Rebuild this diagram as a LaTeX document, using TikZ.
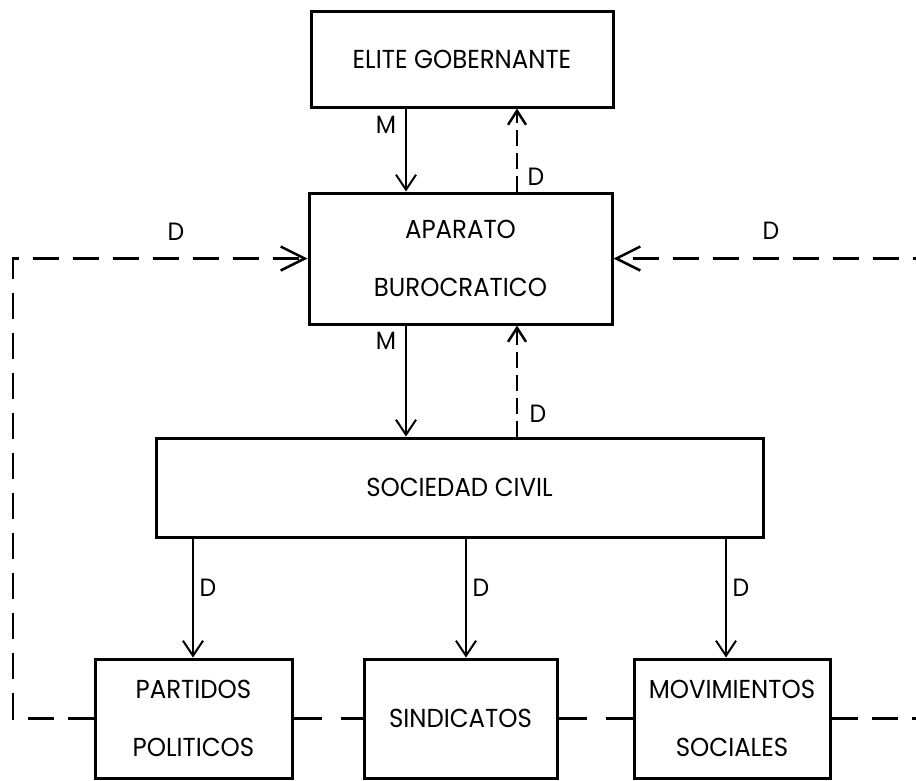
\documentclass[tikz,border=0pt]{standalone}
\usepackage{fontspec}
\setmainfont{Poppins}[FakeStretch=0.94]
\usetikzlibrary{arrows.meta}

\tikzset{
  box/.style={draw, line width=3pt, inner sep=0pt, align=center,
    font=\fontsize{26}{58}\selectfont},
  lbl/.style={inner sep=0pt, font=\fontsize{25}{28}\selectfont},
  solidarr/.style={line width=2pt,
    -{Straight Barb[length=15pt,width=20pt,line width=2pt]}},
  upd/.style={line width=2.5pt, dash pattern=on 16pt off 7pt,
    -{Straight Barb[length=14pt,width=18pt,line width=2.5pt]}},
  longd/.style={line width=2.5pt, dash pattern=on 26pt off 14pt},
  longdarr/.style={longd,
    -{Straight Barb[length=24pt,width=24pt,line width=2.5pt]}},
  botd/.style={line width=2.5pt, dash pattern=on 28pt off 19pt},
}

\begin{document}
\begin{tikzpicture}[x=1pt, y=-1pt]
  \fill[white] (0,0) rectangle (916,780);
  \clip (0,0) rectangle (916,780);

  % boxes
  \node[box, minimum width=302pt, minimum height=96pt] (elite) at (462,59) {ELITE GOBERNANTE};
  \node[box, minimum width=303pt, minimum height=131pt] (aparato) at (460.5,258.5) {APARATO\\BUROCRATICO};
  \node[box, minimum width=607pt, minimum height=99pt] (sociedad) at (459.5,487.5) {SOCIEDAD CIVIL};
  \node[box, minimum width=197pt, minimum height=119pt] (partidos) at (193.5,718.5) {PARTIDOS\\POLITICOS};
  \node[box, minimum width=193pt, minimum height=119pt] (sindicatos) at (460.5,718.5) {SINDICATOS};
  \node[box, minimum width=196pt, minimum height=119pt] (movimientos) at (732,718.5) {MOVIMIENTOS\\SOCIALES};

  % horizontal positions of the vertical arrows
  \coordinate (xm) at (406,0);
  \coordinate (xd) at (517,0);
  \coordinate (xp) at (193,0);
  \coordinate (xs) at (466,0);
  \coordinate (xv) at (726,0);

  % elite <-> aparato
  \draw[solidarr] (elite.south -| xm) -- (aparato.north -| xm);
  \draw[upd] (aparato.north -| xd) -- (elite.south -| xd);
  \node[lbl] (lm1) at (386,125) {M};
  \node[lbl] (ld1) at (536,177) {D};

  % aparato <-> sociedad
  \draw[solidarr] (aparato.south -| xm) -- (sociedad.north -| xm);
  \draw[upd] (sociedad.north -| xd) -- (aparato.south -| xd);
  \node[lbl] (lm2) at (386,341) {M};
  \node[lbl] (ld2) at (538,414) {D};

  % sociedad -> organisations
  \draw[solidarr] (sociedad.south -| xp) -- (partidos.north -| xp);
  \draw[solidarr] (sociedad.south -| xs) -- (sindicatos.north -| xs);
  \draw[solidarr] (sociedad.south -| xv) -- (movimientos.north -| xv);
  \node[lbl] (ld3) at (208,588) {D};
  \node[lbl] (ld4) at (481,588) {D};
  \node[lbl] (ld5) at (741,588) {D};

  % feedback loops to the bureaucracy
  \coordinate (cl1) at (13,718.5);
  \coordinate (cl2) at (13,258.5);
  \coordinate (cr1) at (935,718.5);
  \coordinate (cr2) at (935,258.5);
  \draw[longdarr] (partidos.west) -- (cl1) -- (cl2) -- (aparato.west);
  \draw[longdarr] (movimientos.east) -- (cr1) -- (cr2) -- (aparato.east);
  \draw[botd] (partidos.east) -- (sindicatos.west);
  \draw[botd] (sindicatos.east) -- (movimientos.west);
  \node[lbl] (ld6) at (176,232) {D};
  \node[lbl] (ld7) at (771,231) {D};
\end{tikzpicture}
\end{document}
